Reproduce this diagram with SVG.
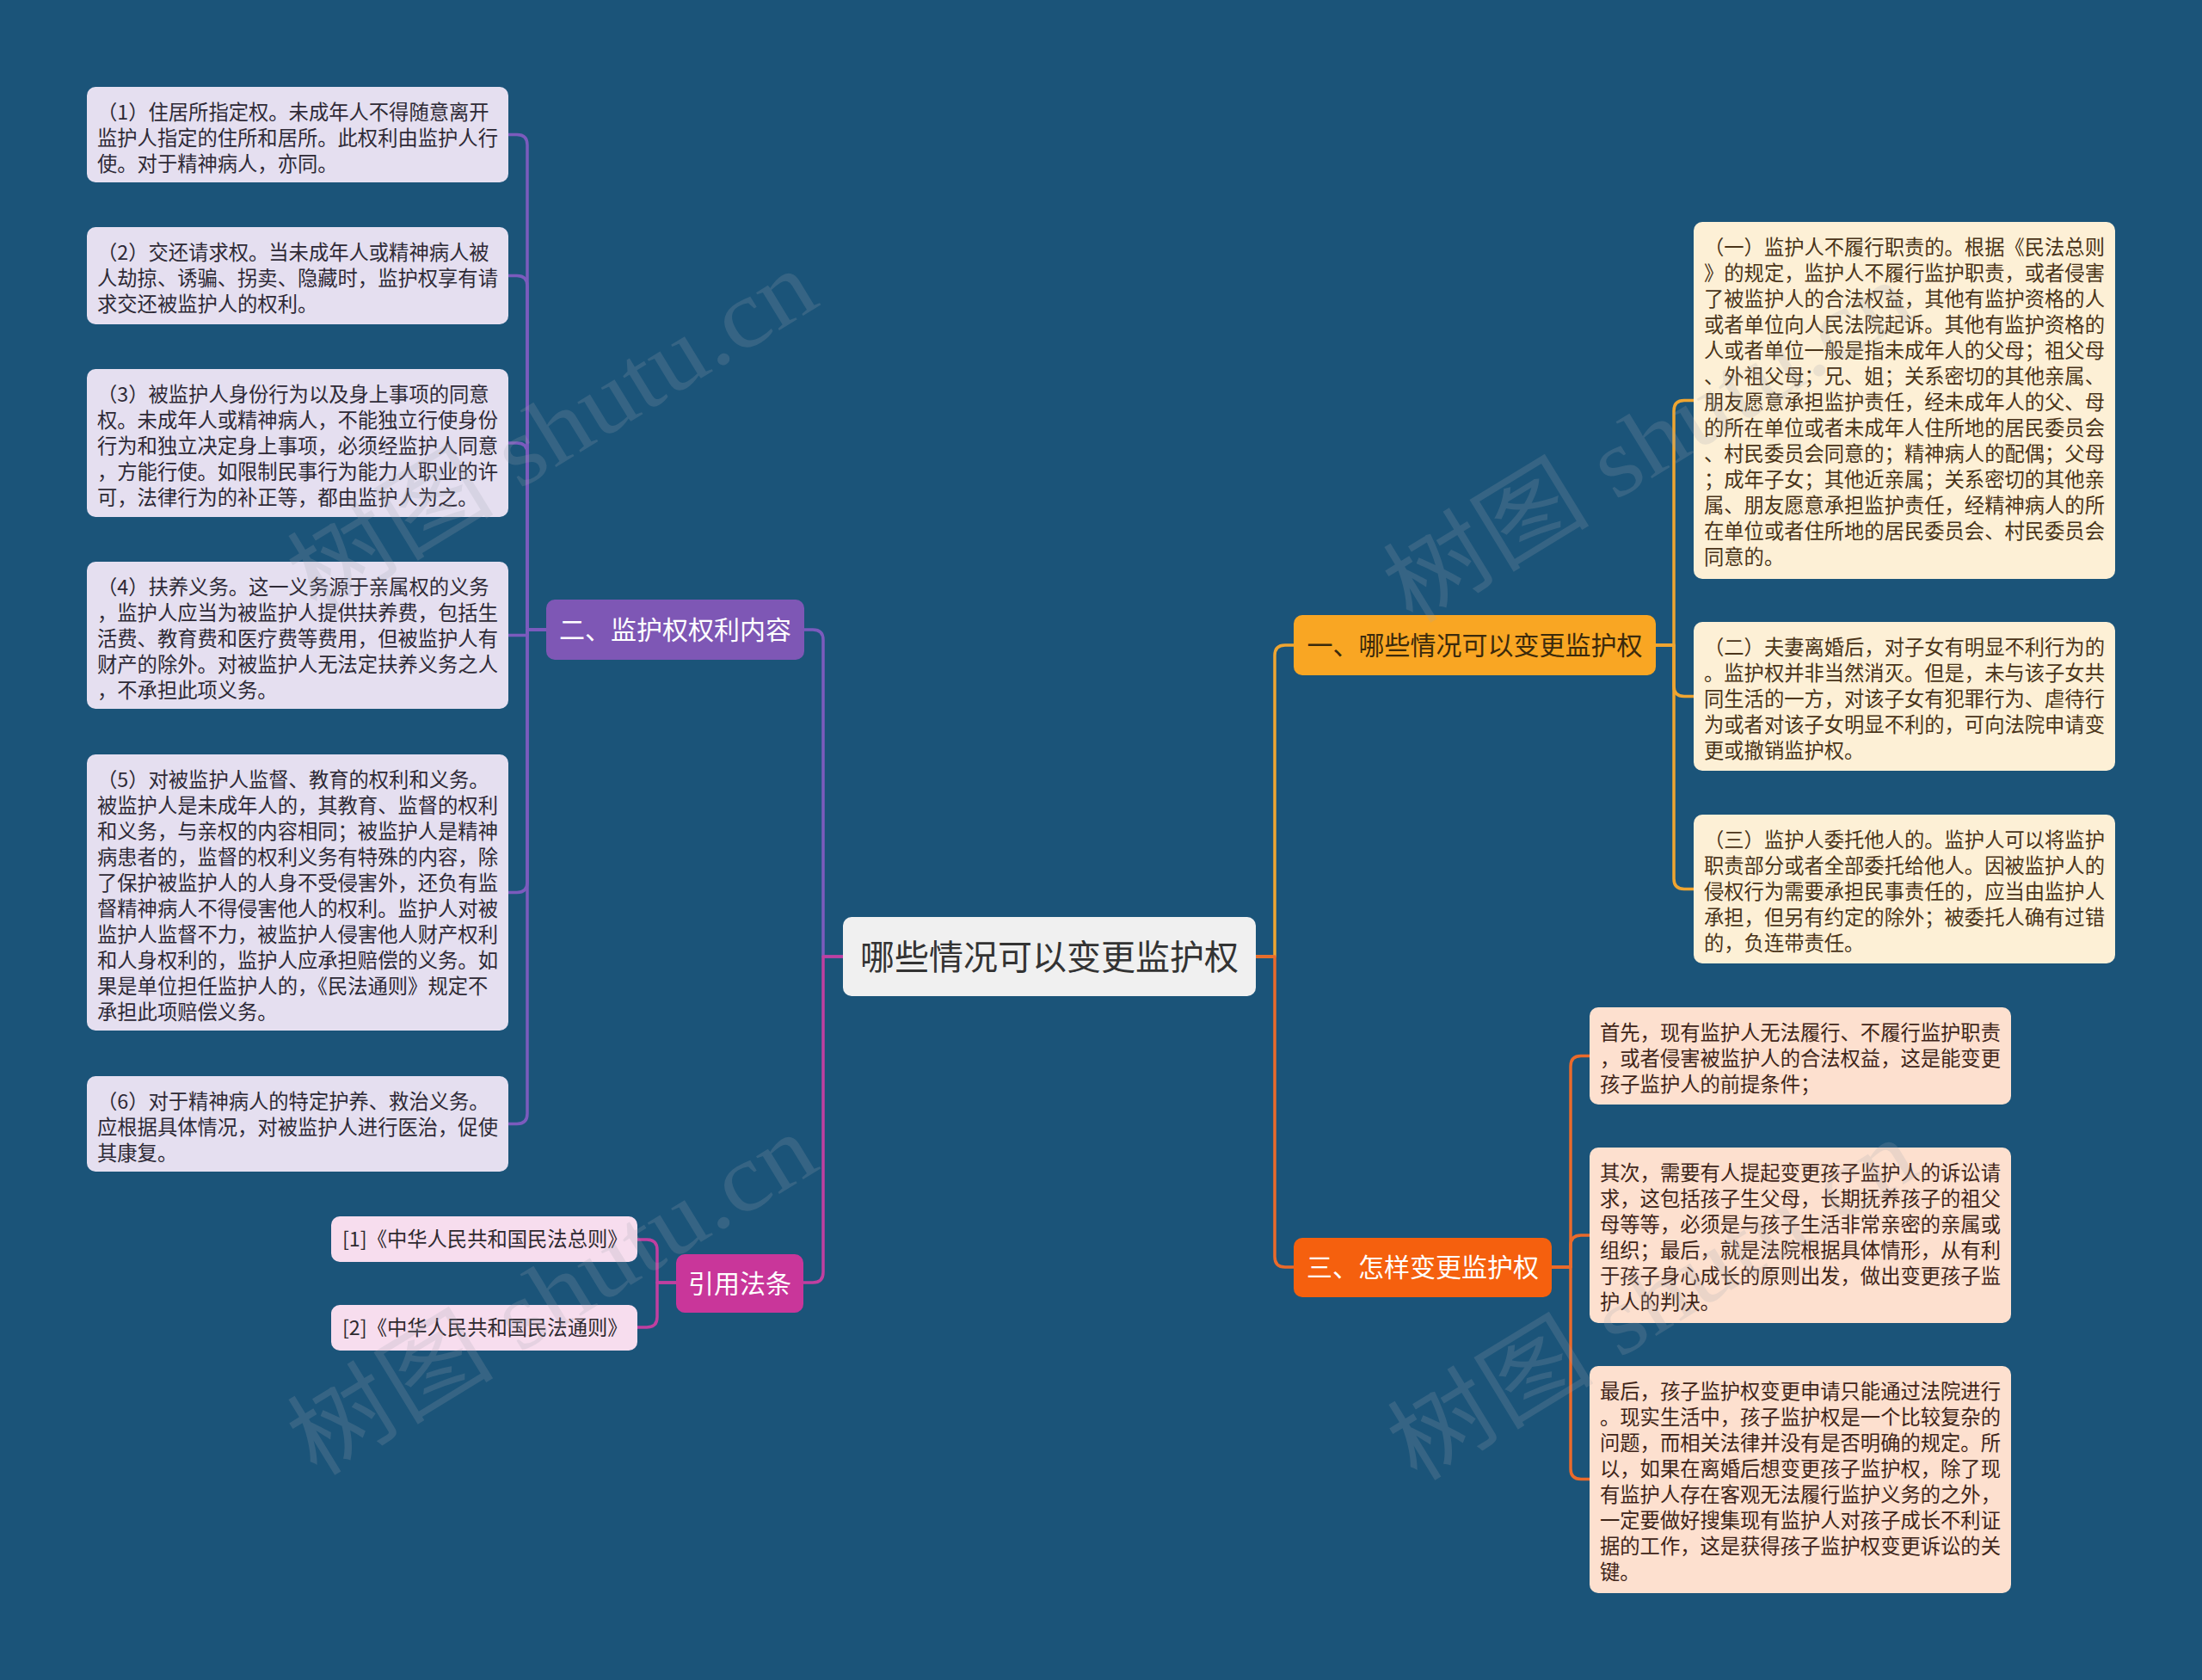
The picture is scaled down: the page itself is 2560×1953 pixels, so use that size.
<svg xmlns="http://www.w3.org/2000/svg" width="2560" height="1953" viewBox="0 0 2560 1953">
<style>
.ln{fill:none;stroke-width:3.5;stroke-linecap:round;stroke-linejoin:round}
.lp{stroke:#7b5bbd}.lm{stroke:#c03fa0}.ly{stroke:#efa531}.lo{stroke:#ea6a2b}
text{font-family:"Noto Sans CJK SC","Noto Sans",sans-serif}
.t{font-size:23.3px}
.tp{fill:#2e2a36}.ty{fill:#4a3419}.to{fill:#3f2519}.tc{fill:#2f2a30}
.br{font-size:30px;text-anchor:middle}
.leafp{fill:#e5dff0}.leafc{fill:#f7ddee}.leafy{fill:#fdf0d6}.leafo{fill:#fde0cf}
.wm{font-family:"Liberation Serif","Noto Sans CJK SC",serif;font-size:112px;fill:#a0a6b0;opacity:0.2;text-anchor:middle}
</style>
<rect x="0" y="0" width="2560" height="1953" fill="#1b5479"/>

<g id="connectors">
  <path class="ln lp" d="M980,1112 H957 V744 Q957,732 945,732 H935"/>
  <path class="ln lm" d="M980,1112 H957 V1479 Q957,1491 945,1491 H934"/>
  <path class="ln ly" d="M1460,1112 H1482 V762 Q1482,750 1494,750 H1504"/>
  <path class="ln lo" d="M1460,1112 H1482 V1461 Q1482,1473 1494,1473 H1504"/>
  <path class="ln lp" d="M635,732 H613 V168.5 Q613,156.5 601,156.5 H591"/>
  <path class="ln lp" d="M635,732 H613 V332.5 Q613,320.5 601,320.5 H591"/>
  <path class="ln lp" d="M635,732 H613 V527 Q613,515 601,515 H591"/>
  <path class="ln lp" d="M635,732 H613 V738.5 H591"/>
  <path class="ln lp" d="M635,732 H613 V1025.5 Q613,1037.5 601,1037.5 H591"/>
  <path class="ln lp" d="M635,732 H613 V1294.5 Q613,1306.5 601,1306.5 H591"/>
  <path class="ln lm" d="M786,1491 H764 V1453 Q764,1441 752,1441 H741"/>
  <path class="ln lm" d="M786,1491 H764 V1531 Q764,1543 752,1543 H741"/>
  <path class="ln ly" d="M1925,750 H1946 V477.5 Q1946,465.5 1958,465.5 H1969"/>
  <path class="ln ly" d="M1925,750 H1946 V797.5 Q1946,809.5 1958,809.5 H1969"/>
  <path class="ln ly" d="M1925,750 H1946 V1021.5 Q1946,1033.5 1958,1033.5 H1969"/>
  <path class="ln lo" d="M1804,1473 H1826 V1239.5 Q1826,1227.5 1838,1227.5 H1848"/>
  <path class="ln lo" d="M1804,1473 H1826 V1448 Q1826,1436 1838,1436 H1848"/>
  <path class="ln lo" d="M1804,1473 H1826 V1707.5 Q1826,1719.5 1838,1719.5 H1848"/>
</g>

<g id="root">
  <rect x="980" y="1066" width="480" height="92" rx="10" fill="#f0f0f0"/>
  <text x="1220" y="1127" font-size="40" text-anchor="middle" fill="#333333">哪些情况可以变更监护权</text>
</g>

<g id="branch-2">
  <rect x="635" y="697" width="300" height="70" rx="10" fill="#7e57b5"/>
  <text class="br" x="785" y="743" fill="#ffffff">二、监护权权利内容</text>
</g>
<g id="branch-cite">
  <rect x="786" y="1458" width="148" height="68" rx="10" fill="#c9369a"/>
  <text class="br" x="860" y="1503" fill="#ffffff">引用法条</text>
</g>
<g id="branch-1">
  <rect x="1504" y="715" width="421" height="70" rx="10" fill="#f9a623"/>
  <text class="br" x="1714.5" y="761" fill="#3b2a0c">一、哪些情况可以变更监护权</text>
</g>
<g id="branch-3">
  <rect x="1504" y="1439" width="300" height="69" rx="10" fill="#f5600e"/>
  <text class="br" x="1654" y="1484" fill="#ffffff">三、怎样变更监护权</text>
</g>

<g id="p1">
  <rect class="leafp" x="101" y="101" width="490" height="111" rx="10"/>
  <text class="t tp"><tspan x="113" y="139">（1）住居所指定权。未成年人不得随意离开</tspan><tspan x="113" dy="30">监护人指定的住所和居所。此权利由监护人行</tspan><tspan x="113" dy="30">使。对于精神病人，亦同。</tspan></text>
</g>
<g id="p2">
  <rect class="leafp" x="101" y="264" width="490" height="113" rx="10"/>
  <text class="t tp"><tspan x="113" y="302">（2）交还请求权。当未成年人或精神病人被</tspan><tspan x="113" dy="30">人劫掠、诱骗、拐卖、隐藏时，监护权享有请</tspan><tspan x="113" dy="30">求交还被监护人的权利。</tspan></text>
</g>
<g id="p3">
  <rect class="leafp" x="101" y="429" width="490" height="172" rx="10"/>
  <text class="t tp"><tspan x="113" y="467">（3）被监护人身份行为以及身上事项的同意</tspan><tspan x="113" dy="30">权。未成年人或精神病人，不能独立行使身份</tspan><tspan x="113" dy="30">行为和独立决定身上事项，必须经监护人同意</tspan><tspan x="113" dy="30">，方能行使。如限制民事行为能力人职业的许</tspan><tspan x="113" dy="30">可，法律行为的补正等，都由监护人为之。</tspan></text>
</g>
<g id="p4">
  <rect class="leafp" x="101" y="653" width="490" height="171" rx="10"/>
  <text class="t tp"><tspan x="113" y="691">（4）扶养义务。这一义务源于亲属权的义务</tspan><tspan x="113" dy="30">，监护人应当为被监护人提供扶养费，包括生</tspan><tspan x="113" dy="30">活费、教育费和医疗费等费用，但被监护人有</tspan><tspan x="113" dy="30">财产的除外。对被监护人无法定扶养义务之人</tspan><tspan x="113" dy="30">，不承担此项义务。</tspan></text>
</g>
<g id="p5">
  <rect class="leafp" x="101" y="877" width="490" height="321" rx="10"/>
  <text class="t tp"><tspan x="113" y="915">（5）对被监护人监督、教育的权利和义务。</tspan><tspan x="113" dy="30">被监护人是未成年人的，其教育、监督的权利</tspan><tspan x="113" dy="30">和义务，与亲权的内容相同；被监护人是精神</tspan><tspan x="113" dy="30">病患者的，监督的权利义务有特殊的内容，除</tspan><tspan x="113" dy="30">了保护被监护人的人身不受侵害外，还负有监</tspan><tspan x="113" dy="30">督精神病人不得侵害他人的权利。监护人对被</tspan><tspan x="113" dy="30">监护人监督不力，被监护人侵害他人财产权利</tspan><tspan x="113" dy="30">和人身权利的，监护人应承担赔偿的义务。如</tspan><tspan x="113" dy="30">果是单位担任监护人的，《民法通则》规定不</tspan><tspan x="113" dy="30">承担此项赔偿义务。</tspan></text>
</g>
<g id="p6">
  <rect class="leafp" x="101" y="1251" width="490" height="111" rx="10"/>
  <text class="t tp"><tspan x="113" y="1289">（6）对于精神病人的特定护养、救治义务。</tspan><tspan x="113" dy="30">应根据具体情况，对被监护人进行医治，促使</tspan><tspan x="113" dy="30">其康复。</tspan></text>
</g>

<g id="c1">
  <rect class="leafc" x="385" y="1414" width="356" height="53" rx="10"/>
  <text class="t tc" x="398" y="1449">[1]《中华人民共和国民法总则》</text>
</g>
<g id="c2">
  <rect class="leafc" x="385" y="1517" width="356" height="53" rx="10"/>
  <text class="t tc" x="398" y="1552">[2]《中华人民共和国民法通则》</text>
</g>

<g id="y1">
  <rect class="leafy" x="1969" y="258" width="490" height="415" rx="10"/>
  <text class="t ty"><tspan x="1981" y="296">（一）监护人不履行职责的。根据《民法总则</tspan><tspan x="1981" dy="30">》的规定，监护人不履行监护职责，或者侵害</tspan><tspan x="1981" dy="30">了被监护人的合法权益，其他有监护资格的人</tspan><tspan x="1981" dy="30">或者单位向人民法院起诉。其他有监护资格的</tspan><tspan x="1981" dy="30">人或者单位一般是指未成年人的父母；祖父母</tspan><tspan x="1981" dy="30">、外祖父母；兄、姐；关系密切的其他亲属、</tspan><tspan x="1981" dy="30">朋友愿意承担监护责任，经未成年人的父、母</tspan><tspan x="1981" dy="30">的所在单位或者未成年人住所地的居民委员会</tspan><tspan x="1981" dy="30">、村民委员会同意的；精神病人的配偶；父母</tspan><tspan x="1981" dy="30">；成年子女；其他近亲属；关系密切的其他亲</tspan><tspan x="1981" dy="30">属、朋友愿意承担监护责任，经精神病人的所</tspan><tspan x="1981" dy="30">在单位或者住所地的居民委员会、村民委员会</tspan><tspan x="1981" dy="30">同意的。</tspan></text>
</g>
<g id="y2">
  <rect class="leafy" x="1969" y="723" width="490" height="173" rx="10"/>
  <text class="t ty"><tspan x="1981" y="761">（二）夫妻离婚后，对子女有明显不利行为的</tspan><tspan x="1981" dy="30">。监护权并非当然消灭。但是，未与该子女共</tspan><tspan x="1981" dy="30">同生活的一方，对该子女有犯罪行为、虐待行</tspan><tspan x="1981" dy="30">为或者对该子女明显不利的，可向法院申请变</tspan><tspan x="1981" dy="30">更或撤销监护权。</tspan></text>
</g>
<g id="y3">
  <rect class="leafy" x="1969" y="947" width="490" height="173" rx="10"/>
  <text class="t ty"><tspan x="1981" y="985">（三）监护人委托他人的。监护人可以将监护</tspan><tspan x="1981" dy="30">职责部分或者全部委托给他人。因被监护人的</tspan><tspan x="1981" dy="30">侵权行为需要承担民事责任的，应当由监护人</tspan><tspan x="1981" dy="30">承担，但另有约定的除外；被委托人确有过错</tspan><tspan x="1981" dy="30">的，负连带责任。</tspan></text>
</g>

<g id="o1">
  <rect class="leafo" x="1848" y="1171" width="490" height="113" rx="10"/>
  <text class="t to"><tspan x="1860" y="1209">首先，现有监护人无法履行、不履行监护职责</tspan><tspan x="1860" dy="30">，或者侵害被监护人的合法权益，这是能变更</tspan><tspan x="1860" dy="30">孩子监护人的前提条件；</tspan></text>
</g>
<g id="o2">
  <rect class="leafo" x="1848" y="1334" width="490" height="204" rx="10"/>
  <text class="t to"><tspan x="1860" y="1372">其次，需要有人提起变更孩子监护人的诉讼请</tspan><tspan x="1860" dy="30">求，这包括孩子生父母，长期抚养孩子的祖父</tspan><tspan x="1860" dy="30">母等等，必须是与孩子生活非常亲密的亲属或</tspan><tspan x="1860" dy="30">组织；最后，就是法院根据具体情形，从有利</tspan><tspan x="1860" dy="30">于孩子身心成长的原则出发，做出变更孩子监</tspan><tspan x="1860" dy="30">护人的判决。</tspan></text>
</g>
<g id="o3">
  <rect class="leafo" x="1848" y="1588" width="490" height="264" rx="10"/>
  <text class="t to"><tspan x="1860" y="1626">最后，孩子监护权变更申请只能通过法院进行</tspan><tspan x="1860" dy="30">。现实生活中，孩子监护权是一个比较复杂的</tspan><tspan x="1860" dy="30">问题，而相关法律并没有是否明确的规定。所</tspan><tspan x="1860" dy="30">以，如果在离婚后想变更孩子监护权，除了现</tspan><tspan x="1860" dy="30">有监护人存在客观无法履行监护义务的之外，</tspan><tspan x="1860" dy="30">一定要做好搜集现有监护人对孩子成长不利证</tspan><tspan x="1860" dy="30">据的工作，这是获得孩子监护权变更诉讼的关</tspan><tspan x="1860" dy="30">键。</tspan></text>
</g>

<g id="watermarks">
  <text class="wm" transform="translate(646,508) rotate(-31.5)" x="0" y="30" textLength="690" lengthAdjust="spacingAndGlyphs">树图 shutu.cn</text>
  <text class="wm" transform="translate(1920,521) rotate(-31.5)" x="0" y="30" textLength="690" lengthAdjust="spacingAndGlyphs">树图 shutu.cn</text>
  <text class="wm" transform="translate(646,1512) rotate(-31.5)" x="0" y="30" textLength="690" lengthAdjust="spacingAndGlyphs">树图 shutu.cn</text>
  <text class="wm" transform="translate(1925,1518) rotate(-31.5)" x="0" y="30" textLength="690" lengthAdjust="spacingAndGlyphs">树图 shutu.cn</text>
</g>
</svg>
